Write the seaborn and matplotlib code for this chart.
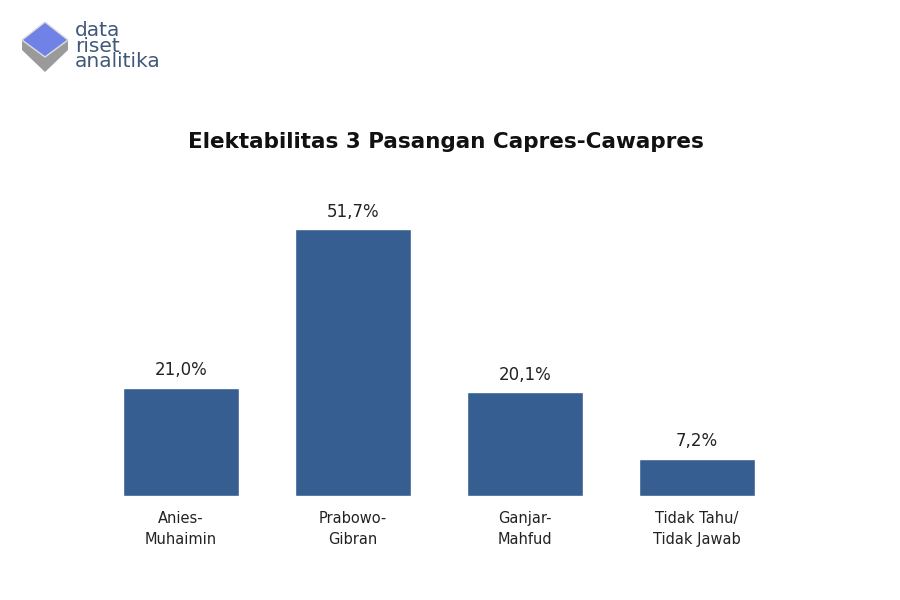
import matplotlib
matplotlib.use("Agg")
import matplotlib.pyplot as plt
import seaborn as sns
import pandas as pd
from matplotlib.patches import Polygon

categories = ["Anies-\nMuhaimin", "Prabowo-\nGibran", "Ganjar-\nMahfud", "Tidak Tahu/\nTidak Jawab"]
values = [21.0, 51.7, 20.1, 7.2]
value_labels = ["21,0%", "51,7%", "20,1%", "7,2%"]
title = "Elektabilitas 3 Pasangan Capres-Cawapres"

sns.set_theme(style="white")
plt.rcParams["font.family"] = ["DejaVu Sans"]

df = pd.DataFrame({"cat": categories, "val": values})

fig = plt.figure(figsize=(9, 6), dpi=100)
ax = fig.add_axes([95/900, 104/600, 688/900, 310/600])
sns.barplot(data=df, x="cat", y="val", color="#365e91", saturation=1, width=0.67, ax=ax)
ax.set_ylim(0, 60)
ax.set_xlim(-0.5, 3.5)
ax.set_xlabel("")
ax.set_ylabel("")
ax.set_yticks([])
for s in ax.spines.values():
    s.set_visible(False)
ax.tick_params(axis="x", length=0, pad=11, labelsize=10.5, labelcolor="#222222")
for lbl in ax.get_xticklabels():
    lbl.set_multialignment("center")
    lbl.set_linespacing(1.45)

for i, (v, t) in enumerate(zip(values, value_labels)):
    ax.annotate(t, (i, v), xytext=(0, 6), textcoords="offset points",
                ha="center", va="bottom", fontsize=12, color="#222222")

fig.text(446/900, 1 - 142/600, title, ha="center", va="center",
         fontsize=15.5, fontweight="bold", color="#111111")

# logo
top = Polygon([[22/900, 1-40/600], [45/900, 1-22/600], [68/900, 1-40/600], [45/900, 1-57/600]],
              closed=True, transform=fig.transFigure, facecolor="#7182e6", edgecolor="#dddddd", lw=1)
bot = Polygon([[22/900, 1-40/600], [45/900, 1-57/600], [68/900, 1-40/600], [68/900, 1-50/600],
               [45/900, 1-72/600], [22/900, 1-50/600]],
              closed=True, transform=fig.transFigure, facecolor="#9a9a9a", edgecolor="none")
fig.patches.extend([bot, top])
fig.text(75/900, 1 - 46/600, "data\nriset\nanalitika", ha="left", va="center",
         fontsize=14.5, color="#3f5879", linespacing=0.78)

fig.savefig("out.png", dpi=100, facecolor="white")
